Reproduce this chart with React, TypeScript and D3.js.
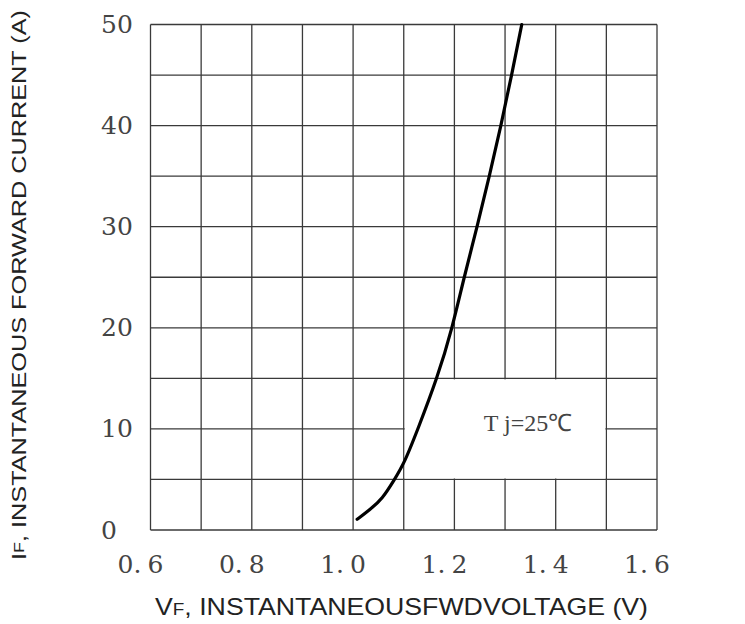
import * as d3 from "d3";

// forward characteristic, Tj = 25°C
const vfVolts = [1.008, 1.033, 1.058, 1.081, 1.101, 1.128, 1.166, 1.196, 1.219, 1.245, 1.269, 1.292, 1.313, 1.333];
const ifAmps = [1.06, 2.0, 3.1, 4.95, 6.6, 10, 15, 20, 25, 30, 35, 40, 45, 50];

const xTicks = [0.6, 0.8, 1.0, 1.2, 1.4, 1.6];
const yTicks = [0, 10, 20, 30, 40, 50];
const xGrid = d3.range(0, 11).map((i) => 0.6 + i * 0.1);
const yGrid = d3.range(0, 11).map((i) => i * 5);

const W = 745;
const H = 624;
const GRID = "#3a3a3a";
const LABEL = "#444";
const SERIF = "'DejaVu Serif', serif";
const SANS = "'Liberation Sans', Arial, sans-serif";

export default function App() {
  const x = d3.scaleLinear().domain([0.6, 1.6]).range([150.5, 657]);
  const y = d3.scaleLinear().domain([0, 50]).range([530, 24.5]);

  const pts = vfVolts.map((v, i) => [v, ifAmps[i]] as [number, number]);
  const line = d3
    .line<[number, number]>()
    .x((d) => x(d[0]))
    .y((d) => y(d[1]))
    .curve(d3.curveBasis);

  // note box sits between 1.1–1.5 V and 5–15 A, masks the inner grid
  const bx0 = x(1.1), bx1 = x(1.5), by0 = y(15), by1 = y(5);

  return (
    <svg
      width={W}
      height={H}
      style={{ position: "absolute", left: 0, top: 0, background: "#fff" }}
    >
      <g stroke={GRID} strokeWidth={1.3}>
        {xGrid.map((v, i) => (
          <line key={"gx" + i} x1={x(v)} x2={x(v)} y1={y(0)} y2={y(50)} />
        ))}
        {yGrid.map((v, i) => (
          <line key={"gy" + i} x1={x(0.6)} x2={x(1.6)} y1={y(v)} y2={y(v)} />
        ))}
      </g>

      <rect x={bx0 + 1} y={by0 + 1} width={bx1 - bx0 - 2} height={by1 - by0 - 2} fill="#fff" />
      <text
        x={528}
        y={(by0 + by1) / 2 - 6}
        textAnchor="middle"
        dominantBaseline="central"
        fontFamily="'Liberation Serif', serif"
        fontSize={24}
        fill={LABEL}
      >
        T j=25℃
      </text>

      <path d={line(pts) ?? ""} fill="none" stroke="#000" strokeWidth={3.2} strokeLinecap="round" />

      <g fontFamily={SERIF} fill={LABEL} fontSize={25}>
        {yTicks.map((t) => (
          <text key={"yt" + t} x={101} y={y(t)} dominantBaseline="central">
            {t}
          </text>
        ))}
        {xTicks.map((t) => {
          const [a, b] = t.toFixed(1).split(".");
          return (
            <text key={"xt" + t} x={x(t) - 10} y={573} textAnchor="middle">
              {a}.<tspan dx={6}>{b}</tspan>
            </text>
          );
        })}
      </g>

      <text
        x={155}
        y={615}
        textLength={493}
        lengthAdjust="spacingAndGlyphs"
        fontFamily={SANS}
        fontSize={24}
        fill="#222"
      >
        V<tspan fontSize={17}>F</tspan>, INSTANTANEOUSFWDVOLTAGE (V)
      </text>
      <text
        transform="translate(18,560) rotate(-90)"
        textLength={550}
        lengthAdjust="spacingAndGlyphs"
        dominantBaseline="central"
        fontFamily={SANS}
        fontSize={21}
        fill="#222"
      >
        I<tspan fontSize={15}>F</tspan>, INSTANTANEOUS FORWARD CURRENT (A)
      </text>
    </svg>
  );
}
